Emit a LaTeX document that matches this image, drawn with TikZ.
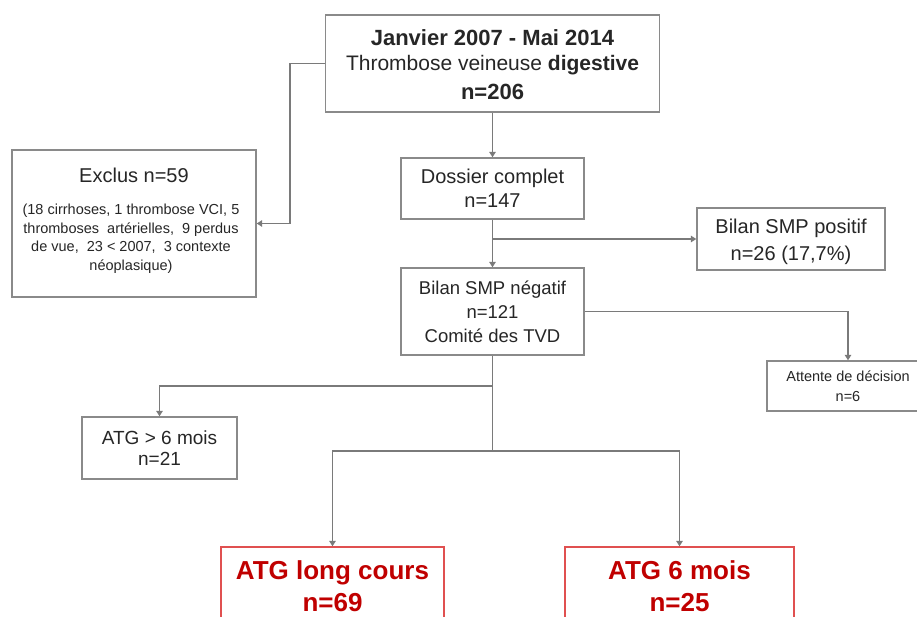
\documentclass[tikz,border=0pt]{standalone}
\usepackage{fontspec}
\setmainfont{Liberation Sans}
\usetikzlibrary{arrows.meta}
\definecolor{lgray}{HTML}{8A8A8A}
\definecolor{cgray}{HTML}{7A7A7A}
\definecolor{dred}{HTML}{C00000}
\definecolor{bred}{HTML}{E05050}
\tikzset{
  box/.style={draw=lgray, line width=1.4pt, fill=white, inner sep=0pt, align=center, text=black!85},
  txt/.style={inner sep=0pt, align=center, text=black!85},
  redbox/.style={draw=bred, line width=1.4pt, fill=white, inner sep=0pt, align=center, text=dred},
  arr/.style={draw=cgray, line width=1.4pt, -{Triangle[width=6.5pt,length=5.5pt]}},
  ln/.style={draw=cgray, line width=1.4pt}
}
\begin{document}
\begin{tikzpicture}[x=1pt,y=-1pt]
\useasboundingbox (0,0) rectangle (917,617);
\clip (0,0) rectangle (917,617);
\fill[white] (0,0) rectangle (917,617);

\node[box, minimum width=334, minimum height=97] (top) at (492.5,63.5) {};
\node[txt, font=\fontsize{22}{27}\selectfont\bfseries] (topA) at (492.5,38) {Janvier 2007 - Mai 2014};
\node[txt, font=\fontsize{21}{27}\selectfont] (topB) at (492.5,65) {Thrombose veineuse \textbf{digestive}};
\node[txt, font=\fontsize{22}{27}\selectfont\bfseries] (topC) at (492.5,92) {n=206};

\node[box, minimum width=244, minimum height=147] (exclus) at (134,223.5) {};
\node[txt, font=\fontsize{20}{24}\selectfont] (exclT) at (134,175) {Exclus n=59};
\node[txt, font=\fontsize{14.5}{18.5}\selectfont] (exclP) at (131,239)
 {(18 cirrhoses, 1 thrombose VCI, 5\\
  thromboses~ artérielles,~ 9 perdus\\
  de vue,~ 23 < 2007,~ 3 contexte\\
  néoplasique)};

\node[box, minimum width=183, minimum height=61, font=\fontsize{20}{24}\selectfont] (dossier) at (492.5,188.5)
 {Dossier complet\\ n=147};

\node[box, minimum width=188, minimum height=62] (positif) at (791,239) {};
\node[txt, font=\fontsize{20}{27}\selectfont] (positifT) at (791,242)
 {Bilan SMP positif\\ n=26 (17,7\%)};

\node[box, minimum width=183, minimum height=87, font=\fontsize{18.5}{24}\selectfont] (negatif) at (492.5,311.5)
 {Bilan SMP négatif\\ n=121\\ Comité des TVD};

\node[box, minimum width=162, minimum height=50, font=\fontsize{14.5}{20}\selectfont] (attente) at (848,386)
 {Attente de décision\\ n=6};

\node[box, minimum width=155, minimum height=62, font=\fontsize{19}{21}\selectfont] (atg6) at (159.5,448)
 {ATG > 6 mois\\ n=21};

\node[redbox, minimum width=223, minimum height=84] (redL) at (332.5,589) {};
\node[txt, text=dred, font=\fontsize{26}{32}\selectfont\bfseries] (redLT) at (332.5,586)
 {ATG long cours\\ n=69};

\node[redbox, minimum width=229, minimum height=84] (redR) at (679.5,589) {};
\node[txt, text=dred, font=\fontsize{26}{32}\selectfont\bfseries] (redRT) at (679.5,586)
 {ATG 6 mois\\ n=25};

\coordinate (jx) at (290,63.5);
\coordinate (jpos) at (492.5,239);
\coordinate (j1) at (492.5,386);
\coordinate (j2) at (492.5,451);

\draw[arr] (top.west) -- (jx) |- (exclus.east);
\draw[arr] (top.south) -- (dossier.north);
\draw[arr] (dossier.south) -- (negatif.north);
\draw[arr] (jpos) -- (positif.west);
\draw[arr] (negatif.east) -| (attente.north);
\draw[ln] (negatif.south) -- (j2);
\draw[arr] (j1) -| (atg6.north);
\draw[arr] (j2) -| (redL.north);
\draw[arr] (j2) -| (redR.north);
\end{tikzpicture}
\end{document}
